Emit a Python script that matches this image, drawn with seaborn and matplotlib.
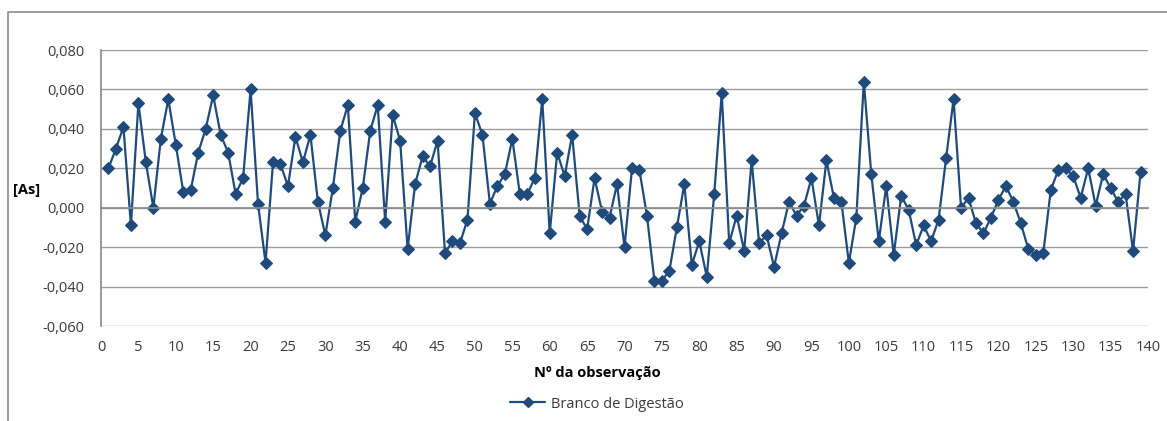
import matplotlib
matplotlib.use("Agg")
import matplotlib.pyplot as plt
import matplotlib.lines as mlines
import seaborn as sns
import pandas as pd
import numpy as np

# Observações do branco de digestão (As)
observacao = list(range(1, 140))
arsenio = [
    0.020, 0.030, 0.041, -0.009, 0.053, 0.023, 0.000, 0.035, 0.055, 0.032,
    0.008, 0.009, 0.028, 0.040, 0.057, 0.037, 0.028, 0.007, 0.015, 0.060,
    0.002, -0.028, 0.023, 0.022, 0.011, 0.036, 0.023, 0.037, 0.003, -0.014,
    0.010, 0.039, 0.052, -0.007, 0.010, 0.039, 0.052, -0.007, 0.047, 0.034,
    -0.021, 0.012, 0.026, 0.021, 0.034, -0.023, -0.017, -0.018, -0.006, 0.048,
    0.037, 0.002, 0.011, 0.017, 0.035, 0.007, 0.007, 0.015, 0.055, -0.013,
    0.028, 0.016, 0.037, -0.004, -0.011, 0.015, -0.002, -0.005, 0.012, -0.020,
    0.020, 0.019, -0.004, -0.037, -0.037, -0.032, -0.010, 0.012, -0.029, -0.017,
    -0.035, 0.007, 0.058, -0.018, -0.004, -0.022, 0.024, -0.018, -0.014, -0.030,
    -0.013, 0.003, -0.004, 0.001, 0.015, -0.009, 0.024, 0.005, 0.003, -0.028,
    -0.005, 0.064, 0.017, -0.017, 0.011, -0.024, 0.006, -0.001, -0.019, -0.009,
    -0.017, -0.006, 0.025, 0.055, 0.000, 0.005, -0.008, -0.013, -0.005, 0.004,
    0.011, 0.003, -0.008, -0.021, -0.024, -0.023, 0.009, 0.019, 0.020, 0.016,
    0.005, 0.020, 0.001, 0.017, 0.010, 0.003, 0.007, -0.022, 0.018,
]
serie = "Branco de Digestão"
x_ticks = list(range(0, 141, 5))
y_ticks = [-0.060, -0.040, -0.020, 0.000, 0.020, 0.040, 0.060, 0.080]
y_labels = ["-0,060", "-0,040", "-0,020", "0,000", "0,020", "0,040", "0,060", "0,080"]

df = pd.DataFrame({"obs": observacao, "As": arsenio})

sns.set_theme(style="white")
plt.rcParams["font.family"] = ["Open Sans", "DejaVu Sans"]

cor = "#1F4A7C"
grid_c = "#9C9C9C"
axis_c = "#8C8C8C"
txt_c = "#3A3A3A"

W, H = 1167, 421
fig = plt.figure(figsize=(W / 100, H / 100), dpi=100)
ax = fig.add_axes([101 / W, 1 - 326 / H, (1148 - 101) / W, (326 - 50) / H])

sns.lineplot(data=df, x="obs", y="As", ax=ax, color=cor, linewidth=1.6,
             marker="D", markersize=6.3, markeredgecolor=cor, legend=False)

ax.set_xlim(0, 140)
ax.set_ylim(-0.060, 0.080)
ax.set_yticks(y_ticks)
ax.set_yticklabels(y_labels)
ax.yaxis.grid(True, color=grid_c, linewidth=1.0)
ax.set_axisbelow(True)

for s in ["top", "right"]:
    ax.spines[s].set_visible(False)
ax.spines["left"].set_color(axis_c)
ax.spines["bottom"].set_position(("data", 0))
ax.spines["bottom"].set_color(axis_c)

ax.set_xticks(x_ticks)
ax.tick_params(axis="x", direction="out", length=5, color=axis_c,
               labelbottom=False, width=1)
ax.tick_params(axis="y", direction="out", length=4, color=axis_c,
               labelsize=10.5, labelcolor=txt_c, pad=8)

# Rótulos do eixo X na base da área de plotagem
sec = ax.secondary_xaxis(0)
sec.set_xticks(x_ticks)
sec.set_xticklabels([str(t) for t in x_ticks])
sec.tick_params(length=0, labelsize=10.5, labelcolor=txt_c, pad=10)
sec.spines["bottom"].set_visible(False)

ax.set_xlabel("")
ax.set_ylabel("")
fig.text(597 / W, 1 - 373 / H, "Nº da observação", ha="center", va="center",
         fontsize=10.5, fontweight="bold", color="#000000")
fig.text(13 / W, 1 - 190 / H, "[As]", ha="left", va="center",
         fontsize=10.5, fontweight="bold", color="#000000")

# Legenda
handle = mlines.Line2D([], [], color=cor, marker="D", markersize=5,
                       linewidth=1.6, label=serie)
fig.legend(handles=[handle], loc="center", bbox_to_anchor=(597 / W, 1 - 404 / H),
           frameon=False, fontsize=10.5, handlelength=2.4, handletextpad=0.4,
           labelcolor=txt_c)

# Moldura do gráfico
frame = plt.Line2D([8 / W, 8 / W, 1.0], [0.0, 1 - 12 / H, 1 - 12 / H],
                   transform=fig.transFigure, color="#8C8C8C", linewidth=1.2)
fig.add_artist(frame)

fig.savefig("out.png", dpi=100, facecolor="white")
